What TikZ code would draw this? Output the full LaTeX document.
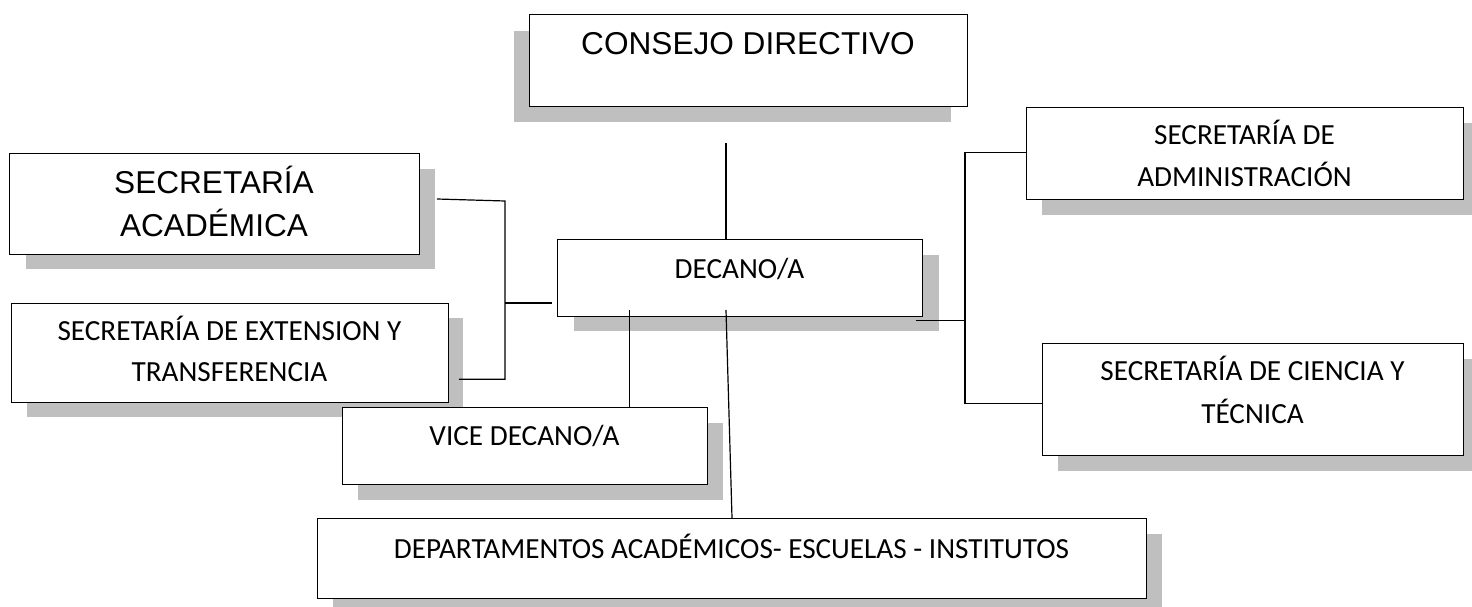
\documentclass[tikz,border=0pt]{standalone}
\usepackage{fontspec}
\setmainfont{Carlito}
\newfontfamily\arialf{Liberation Sans}
\definecolor{shade}{RGB}{191,191,191}
\tikzset{
  orgbox/.style={draw=black, line width=1.3pt, fill=white, rectangle, inner sep=0pt, anchor=north west},
  shadowbox/.style={fill=shade, draw=none, rectangle, inner sep=0pt, anchor=north west},
  conn/.style={line width=1.2pt, black},
  ctxt/.style={anchor=base, inner sep=0pt, font=\fontsize{29.2}{35}\selectfont},
  atxt/.style={anchor=base, inner sep=0pt, font=\arialf\fontsize{31.6}{38}\selectfont}
}
\begin{document}
\begin{tikzpicture}[x=1pt,y=-1pt]
\useasboundingbox (0,0) rectangle (1472,607);
\clip (0,0) rectangle (1472,607);
% shadows
\node[shadowbox, minimum width=437pt, minimum height=91pt] (cds) at (514,31) {};
\node[shadowbox, minimum width=409pt, minimum height=100pt] (sas) at (26,169) {};
\node[shadowbox, minimum width=436pt, minimum height=99pt] (ses) at (27,318) {};
\node[shadowbox, minimum width=365pt, minimum height=76pt] (des) at (574,255) {};
\node[shadowbox, minimum width=365pt, minimum height=77pt] (vds) at (358,423) {};
\node[shadowbox, minimum width=829pt, minimum height=80pt] (dps) at (333,534) {};
\node[shadowbox, minimum width=437pt, minimum height=92pt] (sads) at (1042,123) {};
\node[shadowbox, minimum width=421pt, minimum height=112pt] (scs) at (1058,359) {};
% boxes
\node[orgbox, minimum width=438pt, minimum height=92pt] (cd) at (529,14) {};
\node[orgbox, minimum width=410pt, minimum height=101pt] (sa) at (9,153) {};
\node[orgbox, minimum width=437pt, minimum height=99pt] (se) at (11,303) {};
\node[orgbox, minimum width=365pt, minimum height=77pt] (de) at (557,239) {};
\node[orgbox, minimum width=365pt, minimum height=77pt] (vd) at (342,407) {};
\node[orgbox, minimum width=829pt, minimum height=80pt] (dp) at (317,518) {};
\node[orgbox, minimum width=437pt, minimum height=92pt] (sad) at (1026,107) {};
\node[orgbox, minimum width=421pt, minimum height=112pt] (sc) at (1042,343) {};
% texts
\node[atxt] (cdt) at (748,55) {CONSEJO DIRECTIVO};
\node[atxt] (sat1) at (214,193) {SECRETARÍA};
\node[atxt] (sat2) at (214,236) {ACADÉMICA};
\node[ctxt] (det) at (739.5,278.3) {DECANO/A};
\node[ctxt] (set1) at (229.5,340) {SECRETARÍA DE EXTENSION Y};
\node[ctxt] (set2) at (229.5,381.7) {TRANSFERENCIA};
\node[ctxt] (vdt) at (524.5,445) {VICE DECANO/A};
\node[ctxt] (dpt) at (731.5,558.3) {DEPARTAMENTOS ACADÉMICOS- ESCUELAS - INSTITUTOS};
\node[ctxt] (sadt1) at (1244.5,145) {SECRETARÍA DE};
\node[ctxt] (sadt2) at (1244.5,186.7) {ADMINISTRACIÓN};
\node[ctxt] (sct1) at (1252.5,380.7) {SECRETARÍA DE CIENCIA Y};
\node[ctxt] (sct2) at (1252.5,423.3) {TÉCNICA};
% connector points
\coordinate (p1) at (726,143);
\coordinate (l1) at (437,199);
\coordinate (l2) at (505,201);
\coordinate (l3) at (505,379.3);
\coordinate (l4) at (459,379.3);
\coordinate (l5) at (505,303);
\coordinate (l6) at (552,303);
\coordinate (r0) at (916,320.5);
\coordinate (r1) at (965,320.5);
\coordinate (r2) at (965,152.7);
\coordinate (r3) at (965,403.3);
\coordinate (v1) at (629.5,310);
\coordinate (d1) at (726,310);
\coordinate (d2) at (732,518);
% connectors
\draw[conn] (p1) -- (p1 |- de.north);
\draw[conn] (l1) -- (l2) -- (l3) -- (l4);
\draw[conn] (l5) -- (l6);
\draw[conn] (r0) -- (r1);
\draw[conn] (sad.west |- r2) -- (r2) -- (r3) -- (sc.west |- r3);
\draw[conn] (v1) -- (v1 |- vd.north);
\draw[conn] (d1) -- (d2);
\end{tikzpicture}
\end{document}
